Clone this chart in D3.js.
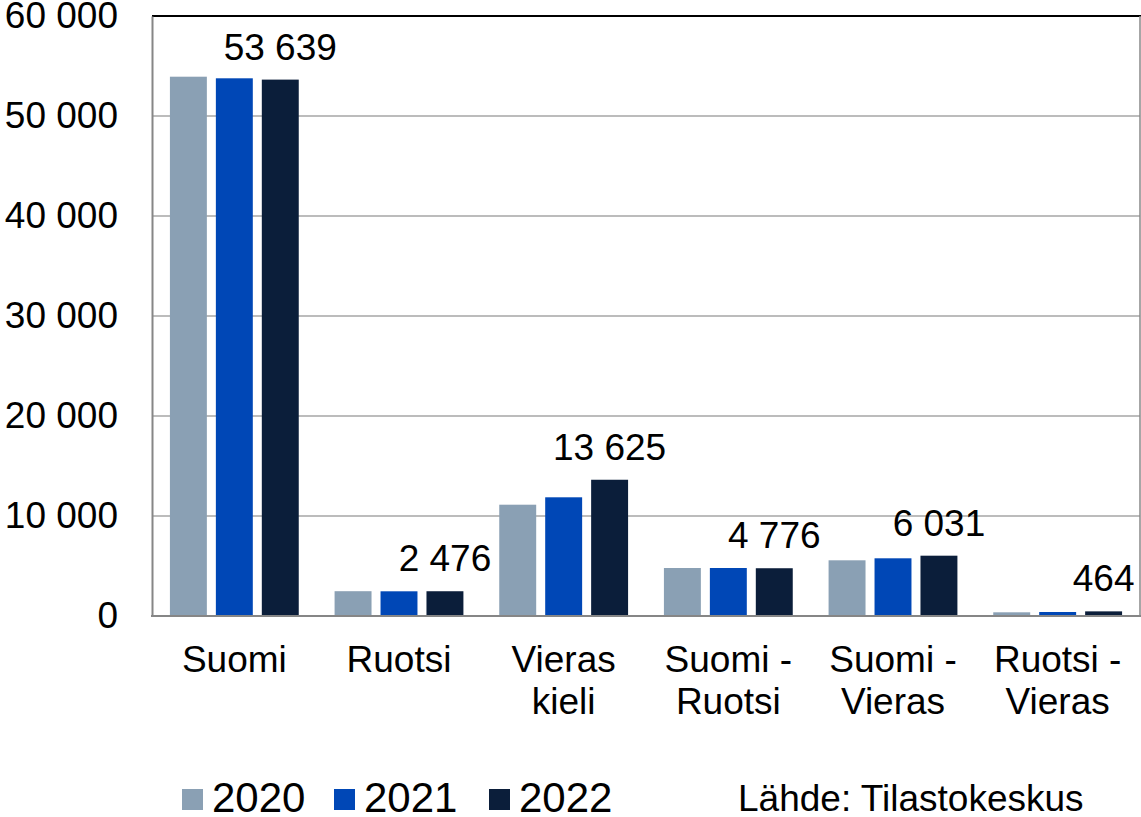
<!DOCTYPE html>
<html>
<head>
<meta charset="utf-8">
<script src="https://cdn.jsdelivr.net/npm/d3@7"></script>
<style>
    body { margin: 0; background: #fff; }
    text { font-family: "Liberation Sans", Arial, sans-serif; fill: #000; }
</style>
</head>
<body>
<svg id="chart" width="1141" height="817"></svg>
<script>
// categories are split in lines for the x axis
var categories = [["Suomi"], ["Ruotsi"], ["Vieras", "kieli"], ["Suomi -", "Ruotsi"], ["Suomi -", "Vieras"], ["Ruotsi -", "Vieras"]];
var years = ["2020", "2021", "2022"];
var values2020 = [53930, 2480, 11130, 4800, 5570, 370];
var values2021 = [53770, 2470, 11870, 4800, 5770, 400];
var values2022 = [53639, 2476, 13625, 4776, 6031, 464];
var yTicks = [0, 10000, 20000, 30000, 40000, 50000, 60000];
var source = "Lähde: Tilastokeskus";

var colors = ["#8aa0b4", "#0047b6", "#0b1e3a"];
var series = [values2020, values2021, values2022];

var svg = d3.select("#chart");
var plotLeft = 152, plotRight = 1140, plotTop = 16, plotBottom = 616;

var x = d3.scaleBand()
    .domain(d3.range(categories.length))
    .range([plotLeft, plotRight]);

var xInner = d3.scaleBand()
    .domain(years)
    .range([0, x.bandwidth()])
    .paddingInner(0.196)
    .paddingOuter(0.39);

var y = d3.scaleLinear()
    .domain([0, 60000])
    .range([plotBottom, plotTop]);

var fmt = function (v) {
    return d3.format(",")(v).replace(/,/g, " ");
};

// grid lines
svg.append("g")
    .selectAll("line")
    .data(yTicks.slice(1, -1))
    .enter()
    .append("line")
    .attr("x1", plotLeft)
    .attr("x2", plotRight)
    .attr("y1", function (d) { return y(d); })
    .attr("y2", function (d) { return y(d); })
    .attr("stroke", "#a6a6a6")
    .attr("stroke-width", 1.5);

// frame: top black, right gray
svg.append("line")
    .attr("x1", plotLeft).attr("x2", plotRight + 1)
    .attr("y1", y(60000)).attr("y2", y(60000))
    .attr("stroke", "#000").attr("stroke-width", 2);
svg.append("line")
    .attr("x1", plotRight).attr("x2", plotRight)
    .attr("y1", y(60000)).attr("y2", y(0))
    .attr("stroke", "#888").attr("stroke-width", 1.5);

// bars
for (let s = 0; s < series.length; s++) {
    svg.append("g")
        .selectAll("rect")
        .data(series[s])
        .enter()
        .append("rect")
        .attr("x", function (d, i) { return x(i) + xInner(years[s]); })
        .attr("y", function (d) { return y(d); })
        .attr("width", xInner.bandwidth())
        .attr("height", function (d) { return y(0) - y(d); })
        .attr("fill", colors[s]);
}

// value labels on the 2022 bars
svg.append("g")
    .selectAll("text")
    .data(values2022)
    .enter()
    .append("text")
    .attr("x", function (d, i) { return x(i) + xInner("2022") + xInner.bandwidth() / 2; })
    .attr("y", function (d) { return y(d) - 20; })
    .attr("text-anchor", "middle")
    .style("font-size", "37px")
    .text(function (d) { return fmt(d); });

// y axis
var yAxis = d3.axisLeft(y)
    .tickValues(yTicks)
    .tickSize(0)
    .tickPadding(34)
    .tickFormat(fmt);

var gy = svg.append("g")
    .attr("transform", "translate(" + plotLeft + ",0)")
    .call(yAxis);
gy.select(".domain").attr("stroke", "#868686").attr("stroke-width", 2);
gy.selectAll("text")
    .style("font-size", "37px")
    .style("font-family", "Liberation Sans, Arial, sans-serif")
    .attr("fill", "#000");

// x axis line
svg.append("line")
    .attr("x1", plotLeft - 1).attr("x2", plotRight + 1)
    .attr("y1", y(0)).attr("y2", y(0))
    .attr("stroke", "#868686").attr("stroke-width", 2);

// category labels
var cat = svg.append("g")
    .selectAll("text")
    .data(categories)
    .enter()
    .append("text")
    .attr("text-anchor", "middle")
    .style("font-size", "37px");

cat.selectAll("tspan")
    .data(function (d, i) { return d.map(function (t) { return [t, i]; }); })
    .enter()
    .append("tspan")
    .attr("x", function (d) { return x(d[1]) + x.bandwidth() / 2; })
    .attr("y", function (d, j) { return 672 + j * 42; })
    .text(function (d) { return d[0]; });

// legend
var legendX = [182, 334, 489];
var legend = svg.append("g")
    .selectAll("g")
    .data(years)
    .enter()
    .append("g")
    .attr("transform", function (d, i) { return "translate(" + legendX[i] + ",0)"; });

legend.append("rect")
    .attr("x", 0)
    .attr("y", 789)
    .attr("width", 21)
    .attr("height", 21)
    .attr("fill", function (d, i) { return colors[i]; });

legend.append("text")
    .attr("x", 30)
    .attr("y", 812)
    .style("font-size", "42px")
    .text(function (d) { return d; });

svg.append("text")
    .attr("x", 738)
    .attr("y", 811)
    .style("font-size", "37px")
    .text(source);
</script>
</body>
</html>
